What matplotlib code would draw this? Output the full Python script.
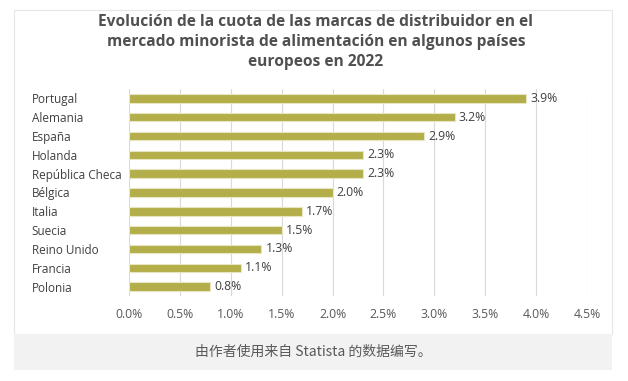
import matplotlib.pyplot as plt
from matplotlib.patches import Rectangle

paises = ["Portugal", "Alemania", "España", "Holanda", "República Checa", "Bélgica",
          "Italia", "Suecia", "Reino Unido", "Francia", "Polonia"]
cuota = [3.9, 3.2, 2.9, 2.3, 2.3, 2.0, 1.7, 1.5, 1.3, 1.1, 0.8]
ticks = [0.0, 0.5, 1.0, 1.5, 2.0, 2.5, 3.0, 3.5, 4.0, 4.5]

titulo = ("Evolución de la cuota de las marcas de distribuidor en el\n"
          "mercado minorista de alimentación en algunos países\n"
          "europeos en 2022")
fuente = "由作者使用来自 Statista 的数据编写。"

plt.rcParams['font.family'] = ['Open Sans', 'DejaVu Sans']

W, H = 628, 381
fig = plt.figure(figsize=(W / 100, H / 100), dpi=100)

# card frame and caption band
fig.patches.append(Rectangle((14 / W, 1 - 334 / H), 598 / W, 324 / H, transform=fig.transFigure,
                             facecolor='white', edgecolor='#e6e6e6', lw=0.8, zorder=-2))
fig.patches.append(Rectangle((14 / W, 1 - 370 / H), 598 / W, 36 / H, transform=fig.transFigure,
                             facecolor='#f2f2f2', edgecolor='none', zorder=-2))

ax = fig.add_axes([129 / W, 85 / H, 458 / W, 207 / H])
ax.set_facecolor('none')
y = range(len(paises))
ax.barh(y, cuota, height=0.45, color='#b3ae4a', edgecolor='#e8e6c0', linewidth=0.8, zorder=2)
for i, v in enumerate(cuota):
    ax.text(v + 0.04, i, f"{v:.1f}%", va='center', ha='left', fontsize=8.8, color='#404040')

ax.set_xlim(0, 4.5)
ax.set_ylim(len(paises) - 0.5, -0.5)
ax.set_xticks(ticks)
ax.set_xticklabels([f"{t:.1f}%" for t in ticks], fontsize=8.8, color='#595959')
ax.set_yticks(list(y))
ax.set_yticklabels(paises, fontsize=8.5, color='#404040')
for lbl in ax.get_yticklabels():
    lbl.set_horizontalalignment('left')
ax.tick_params(axis='y', length=0, pad=70)
ax.tick_params(axis='x', length=0, pad=9)
ax.grid(axis='x', color='#d9d9d9', lw=0.8, zorder=0)
for s in ax.spines.values():
    s.set_visible(False)

fig.text(316 / W, 1 - 42 / H, titulo, ha='center', va='center', fontsize=11.2,
         fontweight='bold', color='#505050', linespacing=1.33)
fig.text(313 / W, 1 - 352 / H, fuente, ha='center', va='center', fontsize=10,
         color='#595959', style='italic', family=['Noto Sans CJK SC', 'DejaVu Sans'])

fig.savefig('out.png', dpi=100)
